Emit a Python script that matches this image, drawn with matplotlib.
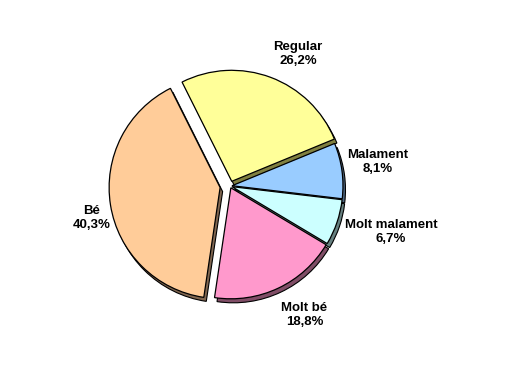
import matplotlib
matplotlib.use("Agg")
import matplotlib.pyplot as plt
import numpy as np

categories = ["Regular", "Malament", "Molt malament", "Molt bé", "Bé"]
values = [26.2, 8.1, 6.7, 18.8, 40.3]
value_labels = ["26,2%", "8,1%", "6,7%", "18,8%", "40,3%"]

colors = ["#FFFF99", "#99CCFF", "#CCFFFF", "#FF99CC", "#FFCC99"]
shadow_colors = ["#808040", "#4D6680", "#668080", "#804D66", "#806650"]
explode_px = [5, 2, 2, 2, 10]
label_dist = [1.34, 1.35, 1.51, 1.34, 1.28]
label_ang_off = [-6.7, 1.4, 2.8, 4.7, 4.1]

W, H = 530, 365
fig = plt.figure(figsize=(W / 100, H / 100), dpi=100)
ax = fig.add_axes([0, 0, 1, 1])

cx, cy, r = 230, H - 186, 111
start = 116.6

# shadow (3D-like thickness)
ax.pie(values, colors=shadow_colors, startangle=start, counterclock=False,
       radius=r, center=(cx + 2.5, cy - 4), explode=explode_px,
       wedgeprops=dict(edgecolor="black", linewidth=0.8), normalize=True, frame=True)
wedges, _ = ax.pie(values, colors=colors, startangle=start, counterclock=False,
                   radius=r, center=(cx, cy), explode=explode_px,
                   wedgeprops=dict(edgecolor="black", linewidth=0.9), normalize=True, frame=True)
ax.set_xlim(0, W)
ax.set_ylim(0, H)
ax.set_aspect("equal")
ax.axis("off")

for w, cat, vl, d, ao in zip(wedges, categories, value_labels, label_dist, label_ang_off):
    th = np.deg2rad((w.theta1 + w.theta2) / 2 + ao)
    x = cx + d * r * np.cos(th)
    y = cy + d * r * np.sin(th)
    ax.text(x, y, f"{cat}\n{vl}", ha="center", va="center", fontsize=9.5,
            fontweight="bold", family="Liberation Sans", linespacing=1.25)

fig.savefig("out.png", dpi=100, facecolor="white")
